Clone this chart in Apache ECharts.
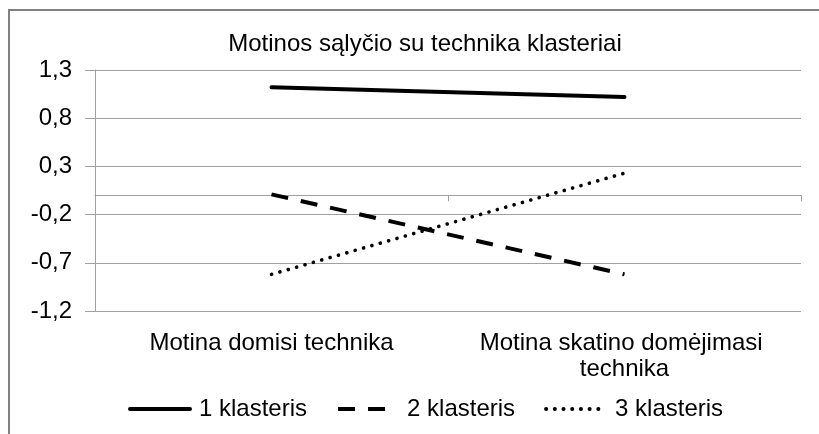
<!DOCTYPE html>
<html>
<head>
<meta charset="utf-8">
<script src="https://cdn.jsdelivr.net/npm/echarts@6/dist/echarts.min.js"></script>
<style>
html,body{margin:0;padding:0;background:#fff;}
#c{width:819px;height:434px;}
</style>
</head>
<body>
<div id="c"></div>
<script>
const title = 'Motinos sąlyčio su technika klasteriai';
const categories = ['Motina domisi technika', 'Motina skatino domėjimasi technika'];
const seriesNames = ['1 klasteris', '2 klasteris', '3 klasteris'];
const cluster1 = [1.12, 1.02];
const cluster2 = [0.01, -0.82];
const cluster3 = [-0.82, 0.23];
const yMin = -1.2, yMax = 1.3, yStep = 0.5;

const FONT = '"Liberation Sans", Arial, sans-serif';
const chart = echarts.init(document.getElementById('c'), null, {renderer: 'canvas'});
const styles = [
  {type: 'solid', width: 4, cap: 'round'},
  {type: [17, 13], width: 4, cap: 'butt'},
  {type: [0.1, 8.6], width: 3.6, cap: 'round'}
];
const data = [cluster1, cluster2, cluster3];
chart.setOption({
  animation: false,
  backgroundColor: '#fff',
  title: {
    text: title, left: 420, top: 27, textAlign: 'center',
    textStyle: {fontFamily: FONT, fontSize: 24, fontWeight: 'normal', color: '#000'}
  },
  graphic: [{
    type: 'rect', shape: {x: 9, y: 10, width: 900, height: 600},
    style: {fill: 'none', stroke: '#808080', lineWidth: 2}, silent: true
  }],
  legend: {
    top: 397, left: 128, padding: 0, itemWidth: 60, itemHeight: 14, itemGap: 29,
    itemStyle: {opacity: 0},
    lineStyle: {width: 4},
    textStyle: {fontFamily: FONT, fontSize: 24, color: '#000', padding: [0, 0, 0, 4]},
    data: seriesNames
  },
  grid: {left: 95, right: 18, top: 70, bottom: 123, containLabel: false},
  xAxis: [{
    type: 'category', data: categories, boundaryGap: true, position: 'bottom',
    axisLine: {show: false, onZero: false}, axisTick: {show: false},
    axisLabel: {fontFamily: FONT, fontSize: 24, color: '#000', margin: 19, interval: 0,
      width: 330, overflow: 'break', lineHeight: 26, align: 'center', hideOverlap: false}
  }, {
    type: 'category', data: categories, boundaryGap: true, position: 'bottom',
    axisLine: {show: true, onZero: true, onZeroAxisIndex: 0, lineStyle: {color: '#a0a0a0', width: 1}},
    axisTick: {show: true, length: 6, lineStyle: {color: '#a0a0a0'}},
    axisLabel: {show: false}
  }],
  yAxis: {
    type: 'value', min: yMin, max: yMax, interval: yStep,
    axisLine: {show: true, lineStyle: {color: '#a0a0a0', width: 1}},
    axisTick: {show: true, length: 10, lineStyle: {color: '#a0a0a0'}},
    splitLine: {show: true, lineStyle: {color: '#a0a0a0', width: 1}},
    axisLabel: {fontFamily: FONT, fontSize: 24, color: '#000', margin: 23,
      formatter: v => v.toFixed(1).replace('.', ',')}
  },
  series: seriesNames.map((n, i) => ({
    name: n, type: 'line', data: data[i], xAxisIndex: 0,
    symbol: 'none', showSymbol: false,
    lineStyle: Object.assign({color: '#000'}, styles[i]),
    itemStyle: {color: '#000'}
  }))
});
</script>
</body>
</html>
